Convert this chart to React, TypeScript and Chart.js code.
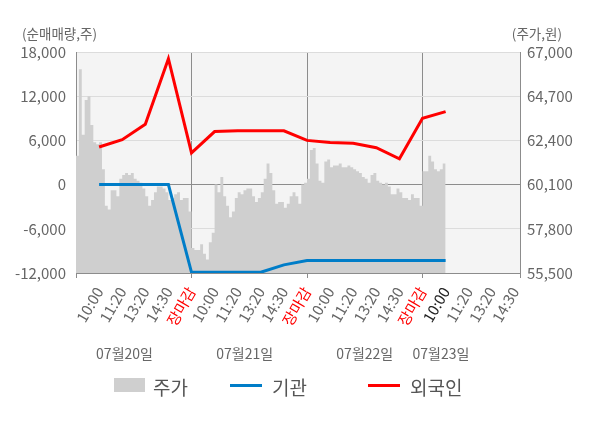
import React, { useEffect, useRef } from "react";
import { Chart, registerables } from "chart.js";

Chart.register(...registerables);

// ---- data ----
const tickLabels = [
  "10:00", "11:20", "13:20", "14:30", "장마감",
  "10:00", "11:20", "13:20", "14:30", "장마감",
  "10:00", "11:20", "13:20", "14:30", "장마감",
  "10:00", "11:20", "13:20", "14:30",
];
const dayLabels = ["07월20일", "07월21일", "07월22일", "07월23일"];
const dayLabelSlots = [2.1, 7.3, 12.5, 15.8];

const flowSlots = [1, 2, 3, 4, 5, 6, 7, 8, 9, 10, 11, 12, 13, 14, 15, 16];
const foreignNet = [5100, 6100, 8200, 17100, 4300, 7200, 7300, 7300, 7300, 6000, 5700, 5600, 5000, 3500, 9000, 9900];
const institutionNet = [0, 0, 0, 0, -11900, -11900, -11900, -11900, -10900, -10300, -10300, -10300, -10300, -10300, -10300, -10300];

const priceDay1 = [
  61600, 66100, 62700, 64500, 64700, 63200, 62300, 62200, 62300, 60900,
  59000, 58800, 59800, 59800, 59500, 60400, 60600, 60700, 60600, 60700,
  60400, 60300, 60200, 59900, 59500, 59000, 59300, 59700, 60000, 60000,
  59900, 59700, 59300, 59400, 59600, 59700, 59300, 59400, 59400, 58700,
];
const priceDay2 = [
  56800, 56700, 56700, 57000, 56500, 56200, 57100, 57600, 60100, 59700,
  60500, 59500, 59000, 58400, 58700, 59400, 59700, 59600, 59800, 59900,
  59900, 59500, 59200, 59400, 59700, 60400, 61200, 60700, 59800, 59100,
  59200, 59200, 58900, 59100, 59500, 59700, 59500, 59100, 60100, 60200,
];
const priceDay3 = [
  60400, 61900, 62000, 61200, 60300, 60200, 61300, 61400, 61000, 61100,
  61100, 61200, 61000, 61000, 61100, 61000, 60900, 60800, 60700, 60500,
  60400, 60200, 60600, 60700, 60300, 60200, 60100, 60200, 60000, 59600,
  59600, 59900, 59700, 59400, 59400, 59300, 59600, 59400, 59400, 59000,
];
const priceDay4 = [60800, 60800, 61600, 61300, 60900, 60800, 60900, 61200];

const netTickMin = -12000;
const netTickMax = 18000;
const netTickStep = 6000;
const priceTickMin = 55500;
const priceTickMax = 67000;
const priceTickStep = 2300;

const pointsPerSlot = 8;
const slotsPerDay = 5;
const xMax = 19.22;

const FONT = "'Noto Sans CJK KR', 'Noto Sans', sans-serif";

function fmt(v: number) {
  return Number(v).toLocaleString("en-US");
}

export default function App() {
  const ref = useRef<HTMLCanvasElement | null>(null);

  useEffect(() => {
    document.body.style.margin = "0";
    const days = [priceDay1, priceDay2, priceDay3, priceDay4];
    const priceData: { x: number; y: number }[] = [];
    days.forEach((arr, d) => {
      arr.forEach((v, i) => priceData.push({ x: d * slotsPerDay + i / pointsPerSlot, y: v }));
    });
    const lastDay = days[days.length - 1];
    priceData.push({
      x: (days.length - 1) * slotsPerDay + lastDay.length / pointsPerSlot,
      y: lastDay[lastDay.length - 1],
    });

    const boundaries = [0, 5, 10, 15, xMax];

    const bgPlugin = {
      id: "bg",
      beforeDraw(chart: any) {
        const { ctx, chartArea: a } = chart;
        ctx.save();
        ctx.fillStyle = "#f4f4f4";
        ctx.fillRect(a.left, a.top, a.right - a.left, a.bottom - a.top);
        ctx.restore();
      },
      afterDraw(chart: any) {
        const { ctx } = chart;
        const xs = chart.scales.x;
        ctx.save();
        ctx.fillStyle = "#666";
        ctx.font = `13.5px ${FONT}`;
        ctx.textBaseline = "middle";
        ctx.textAlign = "left";
        ctx.fillText("(순매매량,주)", 22, 34);
        ctx.textAlign = "right";
        ctx.fillText("(주가,원)", 562, 34);
        ctx.font = `14px ${FONT}`;
        ctx.textAlign = "center";
        dayLabels.forEach((t, i) => {
          ctx.fillText(t, xs.getPixelForValue(dayLabelSlots[i]), 354);
        });
        ctx.restore();
      },
    };

    const chart = new Chart(ref.current as HTMLCanvasElement, {
      type: "line",
      data: {
        datasets: [
          {
            label: "주가",
            data: priceData,
            yAxisID: "yPrice",
            stepped: true,
            fill: "start",
            backgroundColor: "rgb(207,207,207)",
            borderColor: "rgba(0,0,0,0)",
            borderWidth: 0,
            pointRadius: 0,
            order: 3,
          },
          {
            label: "기관",
            data: flowSlots.map((x, i) => ({ x, y: institutionNet[i] })),
            yAxisID: "y",
            borderColor: "rgb(0,125,200)",
            borderWidth: 3,
            pointRadius: 0,
            fill: false,
            order: 2,
          },
          {
            label: "외국인",
            data: flowSlots.map((x, i) => ({ x, y: foreignNet[i] })),
            yAxisID: "y",
            borderColor: "#ff0000",
            borderWidth: 3,
            pointRadius: 0,
            fill: false,
            order: 1,
          },
        ],
      },
      options: {
        animation: false,
        responsive: true,
        maintainAspectRatio: false,
        devicePixelRatio: 1,
        layout: { padding: { top: 52, left: 0, right: 0, bottom: 0 } },
        plugins: { legend: { display: false }, tooltip: { enabled: false } },
        scales: {
          x: {
            type: "linear",
            min: 0,
            max: xMax,
            afterBuildTicks: (scale: any) => {
              const t = tickLabels.map((_, i) => ({ value: i + 1 }));
              scale.ticks = [{ value: 0 }, ...t, { value: xMax }];
            },
            afterFit: (scale: any) => {
              scale.height = 428 - 273;
            },
            ticks: {
              autoSkip: false,
              minRotation: 60,
              maxRotation: 60,
              padding: 6,
              font: { family: FONT, size: 15 },
              color: (c: any) => {
                const lab = tickLabels[c.tick.value - 1];
                if (lab === "장마감") return "#ff0000";
                if (c.tick.value === 16) return "#222";
                return "#666";
              },
              callback: (v: any) => tickLabels[v - 1] ?? "",
            },
            grid: {
              color: (c: any) => (c.tick && boundaries.includes(c.tick.value) ? "#8c8c8c" : "rgba(0,0,0,0)"),
              tickLength: 5,
            },
            border: { color: "#8c8c8c" },
          },
          y: {
            position: "left",
            min: netTickMin,
            max: netTickMax,
            afterFit: (scale: any) => {
              scale.width = 76;
            },
            ticks: {
              stepSize: netTickStep,
              padding: 10,
              font: { family: FONT, size: 15 },
              color: "#666",
              callback: (v: any) => fmt(v),
            },
            grid: {
              color: (c: any) => (c.tick && c.tick.value === 0 ? "#8c8c8c" : "#dcdcdc"),
              drawTicks: false,
            },
            border: { color: "#8c8c8c" },
          },
          yPrice: {
            position: "right",
            min: priceTickMin,
            max: priceTickMax,
            afterFit: (scale: any) => {
              scale.width = 80;
            },
            ticks: {
              stepSize: priceTickStep,
              padding: 7,
              font: { family: FONT, size: 15 },
              color: "#666",
              callback: (v: any) => fmt(v),
            },
            grid: { drawOnChartArea: false, drawTicks: false },
            border: { color: "#8c8c8c" },
          },
        },
      },
      plugins: [bgPlugin],
    } as any);
    return () => chart.destroy();
  }, []);

  const legendText: React.CSSProperties = {
    position: "absolute",
    top: 386,
    transform: "translateY(-50%)",
    fontFamily: FONT,
    fontSize: 19,
    color: "#555",
    lineHeight: 1,
    whiteSpace: "nowrap",
  };

  return (
    <div style={{ position: "absolute", left: 0, top: 0, width: 600, height: 428, background: "#fff" }}>
      <canvas ref={ref} style={{ position: "absolute", left: 0, top: 0, width: 600, height: 428 }} width={600} height={428} />
      <div style={{ position: "absolute", left: 114, top: 378, width: 31, height: 14, background: "rgb(207,207,207)" }} />
      <div style={{ ...legendText, left: 153 }}>주가</div>
      <div style={{ position: "absolute", left: 230, top: 384, width: 32, height: 3, background: "rgb(0,125,200)" }} />
      <div style={{ ...legendText, left: 272 }}>기관</div>
      <div style={{ position: "absolute", left: 368, top: 384, width: 32, height: 3, background: "#ff0000" }} />
      <div style={{ ...legendText, left: 410 }}>외국인</div>
    </div>
  );
}
